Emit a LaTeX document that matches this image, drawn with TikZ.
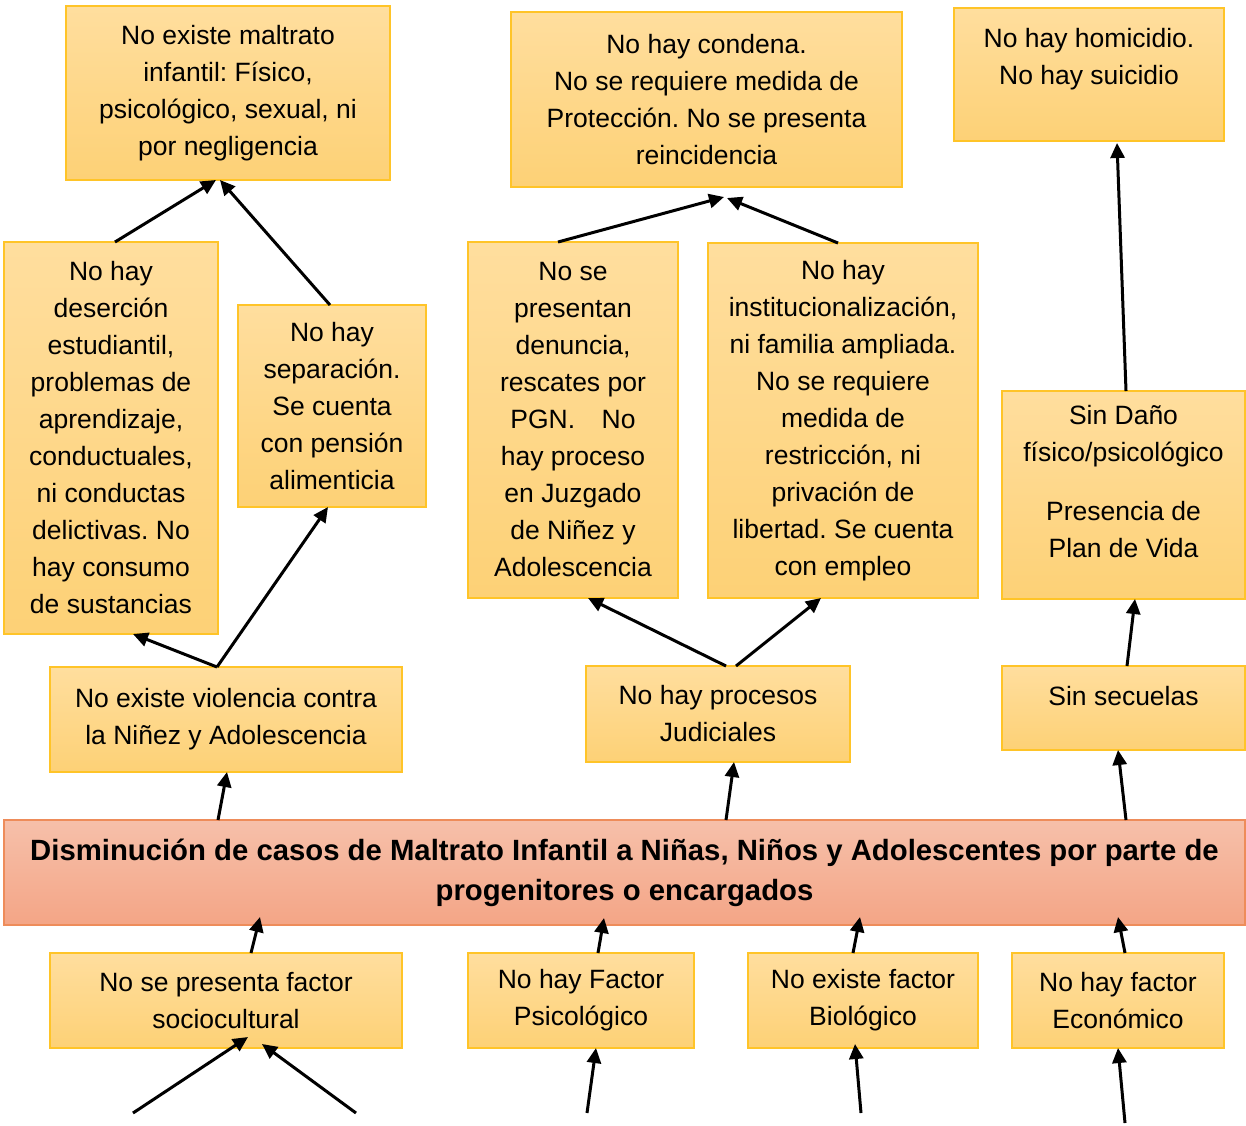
\documentclass[tikz,border=0pt]{standalone}
\usepackage{fontspec}
\setmainfont{Liberation Sans}
\frenchspacing
\usetikzlibrary{arrows.meta}
\definecolor{cajaTop}{RGB}{255,222,158}
\definecolor{cajaBot}{RGB}{253,209,118}
\definecolor{cajaBorde}{RGB}{255,196,40}
\definecolor{mainTop}{RGB}{246,192,170}
\definecolor{mainBot}{RGB}{244,165,134}
\definecolor{mainBorde}{RGB}{238,140,90}
\begin{document}
\begin{tikzpicture}[
        x=1pt, y=-1pt,
        caja/.style={draw=cajaBorde, line width=1.2pt, top color=cajaTop, bottom color=cajaBot,
            align=center, inner sep=0pt, outer sep=0pt,
            font=\fontsize{26.5}{37}\selectfont},
        principal/.style={caja, draw=mainBorde, top color=mainTop, bottom color=mainBot,
            font=\fontsize{29.3}{40}\selectfont\bfseries},
        flecha/.style={draw, line width=3pt, -{Triangle[length=15pt,width=14pt]}},
    ]
    \useasboundingbox (0,0) rectangle (1246,1125);

    % efectos
    \node[caja, minimum width=324pt, minimum height=174pt] (A1) at (228,93)
        {No existe maltrato\\infantil: Físico,\\psicológico, sexual, ni\\por negligencia};
    \node[caja, minimum width=391pt, minimum height=175pt] (B1) at (706.5,99.5)
        {No hay condena.\\No se requiere medida de\\Protección. No se presenta\\reincidencia};
    \node[caja, minimum width=270pt, minimum height=133pt] (C1) at (1089,74.5)
        {No hay homicidio.\\No hay suicidio\\~};
    \node[caja, minimum width=214pt, minimum height=392pt] (A2) at (111,438)
        {No hay\\deserción\\estudiantil,\\problemas de\\aprendizaje,\\conductuales,\\ni conductas\\delictivas. No\\hay consumo\\de sustancias};
    \node[caja, minimum width=188pt, minimum height=202pt] (A3) at (332,406)
        {No hay\\separación.\\Se cuenta\\con pensión\\alimenticia};
    \node[caja, minimum width=210pt, minimum height=356pt] (B2) at (573,420)
        {No se\\presentan\\denuncia,\\rescates por\\PGN.\quad No\\hay proceso\\en Juzgado\\de Niñez y\\Adolescencia};
    \node[caja, minimum width=270pt, minimum height=355pt] (B3) at (843,420.5)
        {No hay\\institucionalización,\\ni familia ampliada.\\No se requiere\\medida de\\restricción, ni\\privación de\\libertad. Se cuenta\\con empleo};
    \node[caja, minimum width=243pt, minimum height=208pt, text depth=28pt] (C2) at (1123.5,495)
        {Sin Daño\\físico/psicológico\\[22pt]Presencia de\\Plan de Vida};
    \node[caja, minimum width=352pt, minimum height=105pt] (A4) at (226,719.5)
        {No existe violencia contra\\la Niñez y Adolescencia};
    \node[caja, minimum width=264pt, minimum height=96pt] (B4) at (718,714)
        {No hay procesos\\Judiciales};
    \node[caja, minimum width=243pt, minimum height=84pt, text depth=24pt] (C4) at (1123.5,708)
        {Sin secuelas};

    % problema central
    \node[principal, minimum width=1241pt, minimum height=105pt] (M) at (624.5,872.5)
        {Disminución de casos de Maltrato Infantil a Niñas, Niños y Adolescentes por parte de\\progenitores o encargados};

    % causas
    \node[caja, minimum width=352pt, minimum height=95pt] (D1) at (226,1000.5)
        {No se presenta factor\\sociocultural};
    \node[caja, minimum width=226pt, minimum height=95pt] (D2) at (581,1000.5)
        {No hay Factor\\Psicológico};
    \node[caja, minimum width=230pt, minimum height=95pt] (D3) at (863,1000.5)
        {No existe factor\\Biológico};
    \node[caja, minimum width=212pt, minimum height=95pt] (D4) at (1118,1000.5)
        {No hay factor\\Económico};

    \coordinate (t1) at (133,1113);
    \coordinate (t2) at (356,1113);
    \coordinate (t3) at (587,1113);
    \coordinate (t4) at (861,1113);
    \coordinate (t5) at (1125,1123);

    % flechas
    \draw[flecha] ([xshift=4pt]A2.north) -- ([xshift=-12pt]A1.south);
    \draw[flecha] ([xshift=-2pt]A3.north) -- ([xshift=-8pt]A1.south);
    \draw[flecha] ([xshift=-9pt]A4.north) -- ([xshift=22pt]A2.south);
    \draw[flecha] ([xshift=-9pt]A4.north) -- ([xshift=-4pt]A3.south);
    \draw[flecha] ([xshift=-8pt]A4.south |- M.north) -- ([xshift=1pt]A4.south);

    \draw[flecha] ([xshift=-15pt]B2.north) -- ([xshift=17.5pt,yshift=-10pt]B1.south);
    \draw[flecha] ([xshift=-5pt]B3.north) -- ([xshift=20.5pt,yshift=-11pt]B1.south);
    \draw[flecha] ([xshift=8pt]B4.north) -- ([xshift=15pt]B2.south);
    \draw[flecha] ([xshift=18pt]B4.north) -- ([xshift=-22pt]B3.south);
    \draw[flecha] ([xshift=8pt]B4.south |- M.north) -- ([xshift=16pt]B4.south);

    \draw[flecha] ([xshift=2.5pt]C2.north) -- ([xshift=28pt,yshift=-2pt]C1.south);
    \draw[flecha] ([xshift=3.5pt]C4.north) -- ([xshift=11.5pt]C2.south);
    \draw[flecha] ([xshift=2.5pt]C4.south |- M.north) -- ([xshift=-5.5pt]C4.south);

    \draw[flecha] ([xshift=25pt]D1.north) -- ([xshift=34pt,yshift=8pt]D1.north |- M.south);
    \draw[flecha] ([xshift=17pt]D2.north) -- ([xshift=23pt,yshift=7pt]D2.north |- M.south);
    \draw[flecha] ([xshift=-10pt]D3.north) -- ([xshift=-3pt,yshift=8pt]D3.north |- M.south);
    \draw[flecha] ([xshift=7pt]D4.north) -- ([yshift=8pt]D4.north |- M.south);

    \draw[flecha] (t1) -- ([xshift=22pt,yshift=11pt]D1.south);
    \draw[flecha] (t2) -- ([xshift=36pt,yshift=4pt]D1.south);
    \draw[flecha] (t3) -- ([xshift=15pt]D2.south);
    \draw[flecha] (t4) -- ([xshift=-8pt,yshift=4pt]D3.south);
    \draw[flecha] (t5) -- (D4.south);
\end{tikzpicture}
\end{document}
